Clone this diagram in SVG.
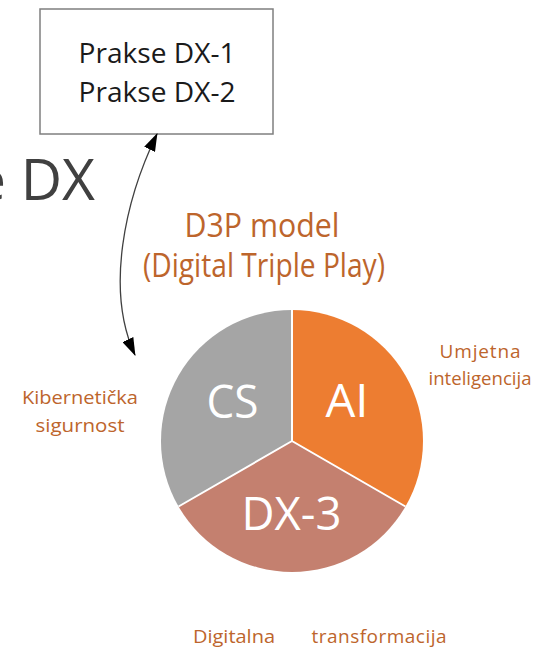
<svg xmlns="http://www.w3.org/2000/svg" width="538" height="648" viewBox="0 0 538 648">
<style>
.box{fill:#fff;stroke:#7f7f7f;stroke-width:1.5}
.dark{font-family:"Open Sans","Noto Sans",sans-serif;fill:#1a1a1a}
.title{font-family:"Open Sans","Noto Sans",sans-serif;fill:#404040}
.brown{font-family:"Open Sans","Noto Sans",sans-serif;fill:#BD652C}
.white{font-family:"Open Sans","Noto Sans",sans-serif;fill:#fff}
.sep{stroke:#fff;stroke-width:2;fill:none}
.conn{fill:none;stroke:#404040;stroke-width:1.3}
</style>
<defs>
<marker id="ah" viewBox="0 0 18 12" refX="17" refY="6" markerWidth="18" markerHeight="12" markerUnits="userSpaceOnUse" orient="auto-start-reverse">
<path d="M0,0 L18,6 L0,12 z" fill="#000"/>
</marker>
</defs>
<rect width="538" height="648" fill="#fff"/>
<text class="title" x="95" y="200" font-size="57" text-anchor="end">e DX</text>
<g id="box">
<rect class="box" x="40" y="9" width="233" height="125"/>
<text class="dark" x="157" y="63" font-size="27" text-anchor="middle" textLength="157" lengthAdjust="spacingAndGlyphs">Prakse DX-1</text>
<text class="dark" x="157" y="101.5" font-size="27" text-anchor="middle" textLength="157" lengthAdjust="spacingAndGlyphs">Prakse DX-2</text>
</g>
<g id="connectors">
<path class="conn" d="M157,134 C125,200 105,290 135,355" marker-start="url(#ah)" marker-end="url(#ah)"/>
</g>
<g id="title-d3p">
<text class="brown" x="262" y="236.5" font-size="32" text-anchor="middle" textLength="155" lengthAdjust="spacingAndGlyphs">D3P model</text>
<text class="brown" x="264" y="276.5" font-size="32" text-anchor="middle" textLength="242" lengthAdjust="spacingAndGlyphs">(Digital Triple Play)</text>
</g>
<g id="pie">
<g id="cs">
<path d="M292,441 L292,310 A131,131 0 0 0 178.55,506.5 Z" fill="#A5A5A5"/>
<text class="white" x="232.5" y="418" font-size="46" text-anchor="middle" textLength="52" lengthAdjust="spacingAndGlyphs">CS</text>
</g>
<g id="ai">
<path d="M292,441 L292,310 A131,131 0 0 1 405.45,506.5 Z" fill="#ED7D31"/>
<text class="white" x="347" y="417" font-size="46" text-anchor="middle" textLength="43" lengthAdjust="spacingAndGlyphs">AI</text>
</g>
<g id="dx3">
<path d="M292,441 L405.45,506.5 A131,131 0 0 1 178.55,506.5 Z" fill="#C4806F"/>
<text class="white" x="291.5" y="530" font-size="46" text-anchor="middle" textLength="100" lengthAdjust="spacingAndGlyphs">DX-3</text>
</g>
<path class="sep" d="M292,310 L292,441 L405.45,506.5 M292,441 L178.55,506.5"/>
</g>
<g id="label-cs">
<text class="brown" x="80" y="404" font-size="19" text-anchor="middle" textLength="116" lengthAdjust="spacingAndGlyphs">Kibernetička</text>
<text class="brown" x="80" y="431.5" font-size="19" text-anchor="middle" textLength="89" lengthAdjust="spacingAndGlyphs">sigurnost</text>
</g>
<g id="label-ai">
<text class="brown" x="480" y="358" font-size="19" text-anchor="middle" textLength="81" lengthAdjust="spacing">Umjetna</text>
<text class="brown" x="480" y="385" font-size="19" text-anchor="middle" textLength="103" lengthAdjust="spacingAndGlyphs">inteligencija</text>
</g>
<g id="label-dx">
<text class="brown" x="234" y="643" font-size="19" text-anchor="middle" textLength="82" lengthAdjust="spacingAndGlyphs">Digitalna</text>
<text class="brown" x="379" y="643" font-size="19" text-anchor="middle" textLength="135" lengthAdjust="spacing">transformacija</text>
</g>
</svg>
